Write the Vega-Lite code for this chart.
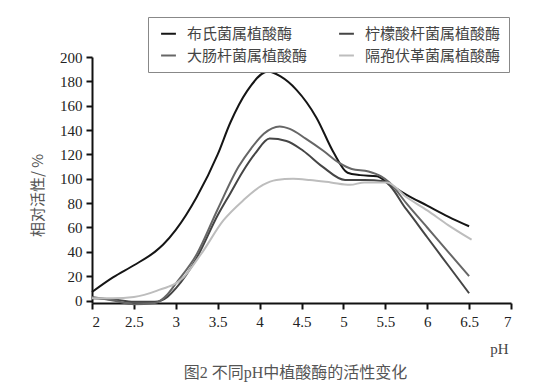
{
  "$schema": "https://vega.github.io/schema/vega-lite/v6.json",
  "autosize": "none",
  "width": 419,
  "height": 246,
  "padding": {"left": 92, "top": 57, "right": 33, "bottom": 88},
  "background": "white",
  "config": {"view": {"stroke": null}},
  "title": {
    "text": "图2  不同pH中植酸酶的活性变化",
    "orient": "bottom",
    "anchor": "middle",
    "dx": -6,
    "offset": 9,
    "font": "Liberation Serif, Noto Sans CJK SC",
    "fontSize": 16,
    "fontWeight": "normal",
    "color": "#555555"
  },
  "data": {
    "values": [
      {"ph": 2.0, "v": 7, "s": "布氏菌属植酸酶"},
      {"ph": 2.25, "v": 19, "s": "布氏菌属植酸酶"},
      {"ph": 2.5, "v": 29, "s": "布氏菌属植酸酶"},
      {"ph": 2.75, "v": 40, "s": "布氏菌属植酸酶"},
      {"ph": 2.85, "v": 46, "s": "布氏菌属植酸酶"},
      {"ph": 3.0, "v": 58, "s": "布氏菌属植酸酶"},
      {"ph": 3.25, "v": 85, "s": "布氏菌属植酸酶"},
      {"ph": 3.5, "v": 120, "s": "布氏菌属植酸酶"},
      {"ph": 3.65, "v": 146, "s": "布氏菌属植酸酶"},
      {"ph": 3.85, "v": 172, "s": "布氏菌属植酸酶"},
      {"ph": 4.1, "v": 188, "s": "布氏菌属植酸酶"},
      {"ph": 4.25, "v": 184, "s": "布氏菌属植酸酶"},
      {"ph": 4.44, "v": 173, "s": "布氏菌属植酸酶"},
      {"ph": 4.68, "v": 150, "s": "布氏菌属植酸酶"},
      {"ph": 4.88, "v": 122, "s": "布氏菌属植酸酶"},
      {"ph": 5.05, "v": 105, "s": "布氏菌属植酸酶"},
      {"ph": 5.2, "v": 103, "s": "布氏菌属植酸酶"},
      {"ph": 5.4, "v": 102, "s": "布氏菌属植酸酶"},
      {"ph": 5.52, "v": 97, "s": "布氏菌属植酸酶"},
      {"ph": 5.75, "v": 87, "s": "布氏菌属植酸酶"},
      {"ph": 6.0, "v": 78, "s": "布氏菌属植酸酶"},
      {"ph": 6.25, "v": 69, "s": "布氏菌属植酸酶"},
      {"ph": 6.5, "v": 61, "s": "布氏菌属植酸酶"},

      {"ph": 2.0, "v": 2, "s": "柠檬酸杆菌属植酸酶"},
      {"ph": 2.25, "v": 1, "s": "柠檬酸杆菌属植酸酶"},
      {"ph": 2.5, "v": -1, "s": "柠檬酸杆菌属植酸酶"},
      {"ph": 2.75, "v": -1, "s": "柠檬酸杆菌属植酸酶"},
      {"ph": 2.9, "v": 3, "s": "柠檬酸杆菌属植酸酶"},
      {"ph": 3.0, "v": 10, "s": "柠檬酸杆菌属植酸酶"},
      {"ph": 3.25, "v": 35, "s": "柠檬酸杆菌属植酸酶"},
      {"ph": 3.5, "v": 70, "s": "柠檬酸杆菌属植酸酶"},
      {"ph": 3.65, "v": 88, "s": "柠檬酸杆菌属植酸酶"},
      {"ph": 3.8, "v": 106, "s": "柠檬酸杆菌属植酸酶"},
      {"ph": 3.95, "v": 121, "s": "柠檬酸杆菌属植酸酶"},
      {"ph": 4.12, "v": 133, "s": "柠檬酸杆菌属植酸酶"},
      {"ph": 4.32, "v": 131, "s": "柠檬酸杆菌属植酸酶"},
      {"ph": 4.52, "v": 123, "s": "柠檬酸杆菌属植酸酶"},
      {"ph": 4.75, "v": 110, "s": "柠檬酸杆菌属植酸酶"},
      {"ph": 5.02, "v": 99, "s": "柠檬酸杆菌属植酸酶"},
      {"ph": 5.25, "v": 99, "s": "柠檬酸杆菌属植酸酶"},
      {"ph": 5.48, "v": 98, "s": "柠檬酸杆菌属植酸酶"},
      {"ph": 5.75, "v": 75, "s": "柠檬酸杆菌属植酸酶"},
      {"ph": 6.0, "v": 52, "s": "柠檬酸杆菌属植酸酶"},
      {"ph": 6.25, "v": 29, "s": "柠檬酸杆菌属植酸酶"},
      {"ph": 6.5, "v": 6, "s": "柠檬酸杆菌属植酸酶"},

      {"ph": 2.0, "v": 3, "s": "大肠杆菌属植酸酶"},
      {"ph": 2.25, "v": 0, "s": "大肠杆菌属植酸酶"},
      {"ph": 2.5, "v": -3, "s": "大肠杆菌属植酸酶"},
      {"ph": 2.75, "v": -2, "s": "大肠杆菌属植酸酶"},
      {"ph": 2.9, "v": 5, "s": "大肠杆菌属植酸酶"},
      {"ph": 3.0, "v": 14, "s": "大肠杆菌属植酸酶"},
      {"ph": 3.25, "v": 38, "s": "大肠杆菌属植酸酶"},
      {"ph": 3.5, "v": 75, "s": "大肠杆菌属植酸酶"},
      {"ph": 3.75, "v": 110, "s": "大肠杆菌属植酸酶"},
      {"ph": 3.9, "v": 125, "s": "大肠杆菌属植酸酶"},
      {"ph": 4.05, "v": 137, "s": "大肠杆菌属植酸酶"},
      {"ph": 4.24, "v": 143, "s": "大肠杆菌属植酸酶"},
      {"ph": 4.36, "v": 141, "s": "大肠杆菌属植酸酶"},
      {"ph": 4.55, "v": 133, "s": "大肠杆菌属植酸酶"},
      {"ph": 4.76, "v": 123, "s": "大肠杆菌属植酸酶"},
      {"ph": 4.95, "v": 113, "s": "大肠杆菌属植酸酶"},
      {"ph": 5.1, "v": 108, "s": "大肠杆菌属植酸酶"},
      {"ph": 5.3, "v": 106, "s": "大肠杆菌属植酸酶"},
      {"ph": 5.45, "v": 102, "s": "大肠杆菌属植酸酶"},
      {"ph": 5.55, "v": 97, "s": "大肠杆菌属植酸酶"},
      {"ph": 5.75, "v": 80, "s": "大肠杆菌属植酸酶"},
      {"ph": 6.0, "v": 60, "s": "大肠杆菌属植酸酶"},
      {"ph": 6.25, "v": 40, "s": "大肠杆菌属植酸酶"},
      {"ph": 6.5, "v": 20, "s": "大肠杆菌属植酸酶"},

      {"ph": 2.0, "v": 2, "s": "隔孢伏革菌属植酸酶"},
      {"ph": 2.25, "v": 2, "s": "隔孢伏革菌属植酸酶"},
      {"ph": 2.5, "v": 3, "s": "隔孢伏革菌属植酸酶"},
      {"ph": 2.77, "v": 8, "s": "隔孢伏革菌属植酸酶"},
      {"ph": 3.09, "v": 19, "s": "隔孢伏革菌属植酸酶"},
      {"ph": 3.3, "v": 38, "s": "隔孢伏革菌属植酸酶"},
      {"ph": 3.57, "v": 66, "s": "隔孢伏革菌属植酸酶"},
      {"ph": 3.8, "v": 82, "s": "隔孢伏革菌属植酸酶"},
      {"ph": 4.04, "v": 95, "s": "隔孢伏革菌属植酸酶"},
      {"ph": 4.2, "v": 99, "s": "隔孢伏革菌属植酸酶"},
      {"ph": 4.4, "v": 100, "s": "隔孢伏革菌属植酸酶"},
      {"ph": 4.6, "v": 99, "s": "隔孢伏革菌属植酸酶"},
      {"ph": 4.85, "v": 97, "s": "隔孢伏革菌属植酸酶"},
      {"ph": 5.08, "v": 95, "s": "隔孢伏革菌属植酸酶"},
      {"ph": 5.25, "v": 97, "s": "隔孢伏革菌属植酸酶"},
      {"ph": 5.52, "v": 97, "s": "隔孢伏革菌属植酸酶"},
      {"ph": 5.75, "v": 85, "s": "隔孢伏革菌属植酸酶"},
      {"ph": 6.0, "v": 74, "s": "隔孢伏革菌属植酸酶"},
      {"ph": 6.25, "v": 62, "s": "隔孢伏革菌属植酸酶"},
      {"ph": 6.53, "v": 50, "s": "隔孢伏革菌属植酸酶"}
    ]
  },
  "mark": {"type": "line", "interpolate": "monotone", "strokeWidth": 2, "clip": false},
  "encoding": {
    "x": {
      "field": "ph",
      "type": "quantitative",
      "scale": {"domain": [2, 7], "nice": false, "zero": false},
      "axis": {
        "values": [2, 2.5, 3, 3.5, 4, 4.5, 5, 5.5, 6, 6.5, 7],
        "format": "~g",
        "grid": false,
        "title": "pH",
        "titleFont": "Liberation Serif",
        "titleFontSize": 15,
        "titleFontWeight": "normal",
        "titleColor": "#444444",
        "titleX": 407,
        "titleY": 38,
        "titleAlign": "center",
        "labelFont": "Liberation Serif",
        "labelFontSize": 15,
        "labelColor": "#222222",
        "labelPadding": 5,
        "domainColor": "#111111",
        "domainWidth": 2,
        "tickColor": "#111111",
        "tickWidth": 2,
        "tickSize": 6
      }
    },
    "y": {
      "field": "v",
      "type": "quantitative",
      "scale": {"domain": [-2, 200], "nice": false, "zero": false},
      "axis": {
        "values": [0, 20, 40, 60, 80, 100, 120, 140, 160, 180, 200],
        "grid": false,
        "title": "相对活性/ %",
        "titleFont": "Noto Sans CJK SC",
        "titleFontSize": 15,
        "titleFontWeight": "normal",
        "titleColor": "#555555",
        "titleX": -47,
        "titleY": 138,
        "labelFont": "Liberation Serif",
        "labelFontSize": 15,
        "labelColor": "#222222",
        "labelPadding": 4,
        "domainColor": "#111111",
        "domainWidth": 2,
        "tickColor": "#111111",
        "tickWidth": 2,
        "tickSize": 6
      }
    },
    "color": {
      "field": "s",
      "type": "nominal",
      "scale": {
        "domain": ["布氏菌属植酸酶", "柠檬酸杆菌属植酸酶", "大肠杆菌属植酸酶", "隔孢伏革菌属植酸酶"],
        "range": ["#151515", "#454545", "#666666", "#bdbdbd"]
      },
      "legend": {
        "title": null,
        "orient": "none",
        "legendX": 56,
        "legendY": -40,
        "columns": 2,
        "direction": "horizontal",
        "columnPadding": 26,
        "rowPadding": 5,
        "padding": 8,
        "fillColor": "white",
        "strokeColor": "#888888",
        "symbolType": "stroke",
        "symbolSize": 220,
        "symbolStrokeWidth": 2,
        "symbolOffset": 4,
        "labelFont": "Noto Sans CJK SC",
        "labelFontSize": 15,
        "labelColor": "#444444",
        "labelLimit": 200,
        "labelOffset": 10
      }
    }
  }
}
